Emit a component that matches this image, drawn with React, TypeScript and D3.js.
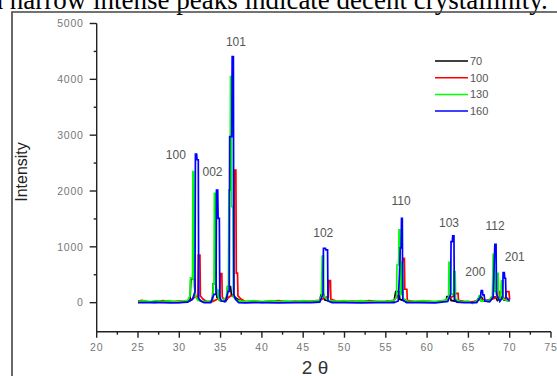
import React from "react";
import * as d3 from "d3";

// XRD patterns, [2θ, intensity]
const s70: [number, number][] = [
  [25, 10], [26, 15], [27, 5], [28, 20], [29, 10], [30, 5], [31, 20], [31.3, 40],
  [31.4, 430], [31.85, 430], [31.95, 120], [32.3, 50], [32.8, 20], [33.5, 10],
  [34.0, 30], [34.1, 335], [34.45, 335], [34.55, 100], [34.9, 40], [35.5, 20],
  [35.8, 60], [35.85, 290], [36.2, 290], [36.3, 150], [36.9, 80], [37.3, 40],
  [38, 10], [39, 20], [40, 5], [41, 15], [42, 10], [43, 20], [44, 10], [45, 15],
  [46, 10], [47, 30], [47.15, 138], [47.5, 138], [47.6, 50], [48.5, 15], [50, 10],
  [52, 20], [54, 10], [56, 30], [56.2, 200], [56.6, 200], [56.7, 60], [57.5, 20],
  [59, 10], [61, 15], [62.3, 30], [62.4, 107], [62.8, 107], [62.9, 40], [64, 10],
  [66, 20], [66.3, 100], [66.6, 100], [66.8, 30], [67.5, 20], [67.8, 100],
  [68.3, 100], [68.5, 40], [68.8, 100], [69.1, 100], [69.3, 50], [70, 30],
];

const s100: [number, number][] = [
  [25, 30], [25.5, 40], [26, 20], [27, 15], [28, 35], [29, 20], [30, 30], [31, 20],
  [31.5, 60], [32.0, 110], [32.25, 110], [32.3, 854], [32.5, 854], [32.55, 120],
  [32.9, 60], [33.3, 20], [34, 20], [34.6, 60], [34.9, 80], [34.95, 520],
  [35.15, 520], [35.2, 100], [35.5, 40], [36.2, 120], [36.6, 120], [36.65, 2376],
  [36.85, 2376], [36.9, 530], [37.05, 530], [37.1, 120], [37.5, 60], [38, 20],
  [39, 30], [40, 15], [41, 25], [42, 35], [43, 15], [44, 30], [45, 20], [46, 30],
  [47, 40], [47.8, 100], [48.05, 100], [48.1, 394], [48.3, 394], [48.35, 60],
  [49, 30], [50, 20], [51, 30], [52, 20], [53, 35], [54, 20], [55, 25], [56, 40],
  [56.9, 200], [57.05, 795], [57.25, 795], [57.3, 240], [57.55, 240], [57.6, 40],
  [58.5, 20], [60, 30], [61, 15], [62, 25], [63.2, 120], [63.55, 168], [63.75, 168],
  [63.8, 40], [64.5, 25], [65.5, 15], [66.5, 60], [67, 40], [67.8, 60], [68.5, 100],
  [68.55, 197], [68.8, 197], [68.85, 60], [69.5, 80], [69.6, 197], [69.9, 197],
  [70, 60],
];

const s130: [number, number][] = [
  [25, 20], [25.8, 35], [26.5, 20], [27.2, 35], [28, 20], [28.8, 35], [29.5, 15],
  [30.5, 30], [31, 40], [31.3, 120], [31.35, 440], [31.6, 440], [31.65, 2346],
  [31.75, 2346], [31.8, 300], [32.0, 100], [32.3, 40], [33, 20], [33.8, 30],
  [34.05, 60], [34.1, 330], [34.2, 330], [34.25, 1960], [34.35, 1960], [34.4, 227],
  [34.7, 227], [34.75, 60], [35.2, 30], [35.7, 100], [35.8, 280], [35.95, 280],
  [36.0, 2020], [36.15, 2020], [36.2, 4047], [36.3, 4047], [36.35, 1720],
  [36.5, 1720], [36.55, 100], [37, 40], [38, 20], [39, 35], [40, 20], [41, 35],
  [42, 20], [43, 30], [44, 20], [45, 35], [46, 25], [47, 40], [47.2, 120],
  [47.3, 836], [47.45, 836], [47.5, 120], [48, 40], [49, 25], [50, 35], [51, 20],
  [52, 35], [53, 20], [54, 30], [55, 20], [56, 40], [56.3, 100], [56.35, 675],
  [56.55, 675], [56.6, 1302], [56.7, 1302], [56.75, 150], [56.9, 150], [56.95, 723],
  [57.05, 723], [57.1, 80], [57.6, 30], [58.5, 25], [59.5, 35], [60.5, 20],
  [61.5, 30], [62.3, 50], [62.6, 100], [62.65, 723], [62.8, 723], [62.85, 150],
  [63.2, 150], [63.25, 555], [63.4, 555], [63.45, 60], [64, 20], [65, 25],
  [65.5, -15], [66.2, 60], [66.3, 120], [66.45, 120], [66.5, 30], [67.5, 40],
  [67.9, 120], [68.0, 867], [68.15, 867], [68.2, 200], [68.45, 200], [68.5, 526],
  [68.6, 526], [68.65, 60], [68.9, 60], [69.0, 389], [69.15, 389], [69.2, 60],
  [70, 30],
];

const s160: [number, number][] = [
  [25, 0], [26, 0], [27, 5], [28, 0], [29, -5], [30, 0], [31, 10], [31.6, 60],
  [31.9, 200], [31.95, 2663], [32.1, 2663], [32.15, 2560], [32.3, 2560],
  [32.35, 80], [32.6, 30], [33, 0], [33.8, 0], [34.2, 150], [34.45, 150],
  [34.5, 2018], [34.65, 2018], [34.7, 1511], [34.85, 1511], [34.9, 100], [35.1, 30],
  [35.6, 20], [35.9, 200], [36.05, 200], [36.1, 2973], [36.35, 2973], [36.4, 4405],
  [36.55, 4405], [36.6, 150], [36.8, 60], [37.2, 0], [38, -5], [39, 0], [40, 0],
  [42, -5], [44, 0], [46, 0], [47, 10], [47.4, 150], [47.45, 974], [47.7, 974],
  [47.75, 944], [47.95, 944], [48.0, 30], [48.5, 0], [50, 0], [52, -5], [54, 0],
  [56, 0], [56.5, 30], [56.65, 500], [56.75, 980], [56.85, 980], [56.9, 1511],
  [57.0, 1511], [57.05, 50], [57.5, 0], [59, 0], [61, -5], [62.5, 20], [62.85, 150],
  [62.9, 1093], [63.05, 1093], [63.1, 1195], [63.25, 1195], [63.3, 60], [63.6, 10],
  [64.5, 0], [66, 0], [66.45, 100], [66.55, 215], [66.7, 215], [66.75, 138],
  [66.9, 138], [67.0, 30], [67.6, 20], [68.0, 100], [68.2, 1046], [68.35, 1046],
  [68.4, 150], [68.8, 20], [69.15, 100], [69.2, 537], [69.35, 537], [69.4, 437],
  [69.5, 437], [69.55, 100], [69.8, 60], [70, 40],
];

const seriesNames = ["70", "100", "130", "160"];
const seriesColors = ["#000000", "#ff0000", "#00ff00", "#0000ff"];
const seriesData = [s70, s100, s130, s160];

// peak labels (hkl) placed at [2θ, intensity]
const peakNames = ["100", "002", "101", "102", "110", "103", "200", "112", "201"];
const peakTheta = [29.58, 34.02, 36.86, 47.43, 56.84, 62.65, 65.84, 68.22, 70.61];
const peakIntensity = [2645, 2346, 4674, 1243, 1821, 1422, 555, 1374, 813];

const xTicks = [20, 25, 30, 35, 40, 45, 50, 55, 60, 65, 70, 75];
const yTicks = [0, 1000, 2000, 3000, 4000, 5000];

const W = 557;
const H = 376;

export default function App() {
  const x = d3.scaleLinear().domain([20, 75]).range([96.7, 551]);
  const y = d3.scaleLinear().domain([-520, 5000]).range([331.7, 23.5]);

  const line = d3
    .line<[number, number]>()
    .x((d) => x(d[0]))
    .y((d) => y(d[1]));

  const xMinor = xTicks.slice(0, -1).map((t) => t + 2.5);
  const yMinor = yTicks.slice(0, -1).map((t) => t + 500);

  const sans = "'Liberation Sans', Arial, sans-serif";

  return (
    <svg
      width={W}
      height={H}
      style={{ position: "absolute", left: 0, top: 0, background: "#fff" }}
    >
      {/* caption line cut off above the figure */}
      <text
        x={-36}
        y={9}
        fontFamily="'Liberation Serif', 'Times New Roman', serif"
        fontSize={27}
        fill="#000"
      >
        and narrow intense peaks indicate decent crystallinity.
      </text>

      {/* figure frame */}
      <path d={`M12,376 V12 H${W}`} fill="none" stroke="#444" strokeWidth={1.6} />

      {/* series */}
      {seriesData.map((s, i) => (
        <path
          key={seriesNames[i]}
          d={line(s) ?? ""}
          fill="none"
          stroke={seriesColors[i]}
          strokeWidth={1.7}
          strokeLinejoin="miter"
        />
      ))}

      {/* axes */}
      <g stroke="#222" strokeWidth={1.4} fill="none">
        <path d={`M${x(20)},${y(5000)} V${y(-520)} H${x(75)}`} />
        {yTicks.map((t) => (
          <line key={"yt" + t} x1={x(20) - 7} x2={x(20)} y1={y(t)} y2={y(t)} />
        ))}
        {yMinor.map((t) => (
          <line key={"ym" + t} x1={x(20) - 3} x2={x(20)} y1={y(t)} y2={y(t)} />
        ))}
        {xTicks.map((t) => (
          <line key={"xt" + t} x1={x(t)} x2={x(t)} y1={y(-520)} y2={y(-520) + 6} />
        ))}
        {xMinor.map((t) => (
          <line key={"xm" + t} x1={x(t)} x2={x(t)} y1={y(-520)} y2={y(-520) + 3} />
        ))}
      </g>

      <g fontFamily={sans} fontSize={10.5} letterSpacing={0.8} fill="#777">
        {yTicks.map((t) => (
          <text key={"yl" + t} x={x(20) - 13} y={y(t)} dy="0.35em" textAnchor="end">
            {t}
          </text>
        ))}
        {xTicks.map((t) => (
          <text key={"xl" + t} x={x(t)} y={y(-520) + 19} textAnchor="middle">
            {t}
          </text>
        ))}
      </g>

      {/* axis titles */}
      <text
        transform="translate(27,172) rotate(-90)"
        textAnchor="middle"
        fontFamily={sans}
        fontSize={16}
        fill="#222"
      >
        Intensity
      </text>
      <text x={315} y={374} textAnchor="middle" fontFamily={sans} fontSize={19} fill="#333">
        2 θ
      </text>

      {/* peak labels */}
      <g fontFamily={sans} fontSize={12} fill="#555">
        {peakNames.map((p, i) => (
          <text
            key={p}
            x={x(peakTheta[i])}
            y={y(peakIntensity[i])}
            dy="0.35em"
            textAnchor="middle"
          >
            {p}
          </text>
        ))}
      </g>

      {/* legend */}
      <g fontFamily={sans} fontSize={11} fill="#555">
        {seriesNames.map((n, i) => (
          <g key={"lg" + n} transform={`translate(435,${61 + i * 16.7})`}>
            <line x1={0} x2={33} y1={0} y2={0} stroke={seriesColors[i]} strokeWidth={1.5} />
            <text x={35} y={0} dy="0.35em">
              {n}
            </text>
          </g>
        ))}
      </g>
    </svg>
  );
}
